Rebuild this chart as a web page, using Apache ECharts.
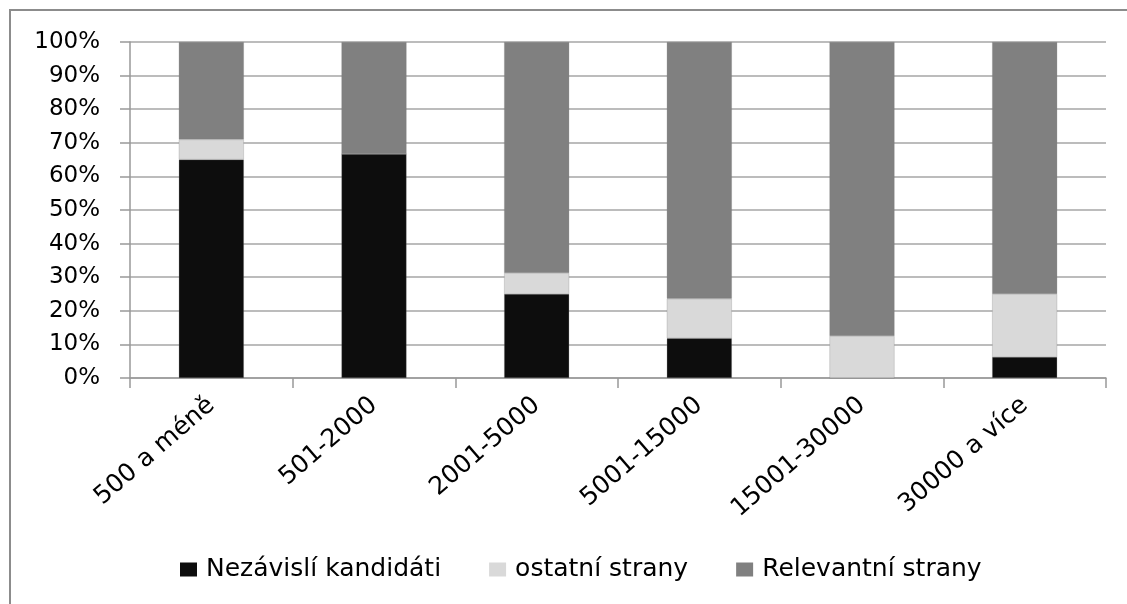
<!DOCTYPE html>
<html style="height: 100%">
<head>
<meta charset="utf-8">
<script src="https://cdn.jsdelivr.net/npm/echarts@6/dist/echarts.min.js"></script>
</head>
<body style="height: 100%; margin: 0; background: #fff">
<div id="container" style="width: 1127px; height: 604px"></div>
<script type="text/javascript">
var categories = ['500 a méně', '501-2000', '2001-5000', '5001-15000', '15001-30000', '30000 a více'];
var nezavisli = [65, 66.7, 25, 11.8, 0, 6.25];
var ostatni = [6, 0, 6.25, 11.8, 12.5, 18.75];
var relevantni = [29, 33.3, 68.75, 76.4, 87.5, 75];
var yTicks = [0, 10, 20, 30, 40, 50, 60, 70, 80, 90, 100];

var dom = document.getElementById('container');
var myChart = echarts.init(dom);

function bar(name, data, color) {
    return {
        name: name,
        type: 'bar',
        stack: 'total',
        barWidth: '40%',
        data: data,
        itemStyle: { color: color, borderColor: 'rgba(120,120,120,0.5)', borderWidth: 0.5 }
    };
}

var option = {
    animation: false,
    graphic: [{
        type: 'polyline',
        shape: { points: [[10, 604], [10, 10], [1127, 10]] },
        style: { fill: 'none', stroke: '#8c8c8c', lineWidth: 2 }
    }],
    legend: {
        top: 557,
        left: 180,
        padding: 0,
        itemWidth: 17,
        itemHeight: 14,
        itemGap: 48,
        icon: 'rect',
        itemStyle: { borderWidth: 0 },
        textStyle: { fontFamily: 'DejaVu Sans', fontSize: 25, color: '#000', padding: [0, 0, 0, 4] },
        data: ['Nezávislí kandidáti', 'ostatní strany', 'Relevantní strany']
    },
    grid: { left: 130, right: 21, top: 42, bottom: 226 },
    xAxis: {
        type: 'category',
        data: categories,
        axisLine: { lineStyle: { color: '#999', width: 1.5 } },
        axisTick: { show: true, length: 10, lineStyle: { color: '#999', width: 1.5 } },
        axisLabel: {
            rotate: 41,
            margin: 24,
            color: '#000',
            fontFamily: 'DejaVu Sans',
            fontSize: 25
        }
    },
    yAxis: {
        type: 'value',
        min: 0,
        max: 100,
        interval: 10,
        axisLine: { show: true, lineStyle: { color: '#999', width: 1.5 } },
        axisTick: { show: true, length: 10, lineStyle: { color: '#999', width: 1.5 } },
        splitLine: { lineStyle: { color: '#a6a6a6', width: 1.5 } },
        axisLabel: {
            margin: 30,
            color: '#000',
            fontFamily: 'DejaVu Sans',
            fontSize: 23,
            formatter: function (v) { return yTicks.indexOf(v) >= 0 ? v + '%' : ''; }
        }
    },
    series: [
        bar('Nezávislí kandidáti', nezavisli, '#0d0d0d'),
        bar('ostatní strany', ostatni, '#d9d9d9'),
        bar('Relevantní strany', relevantni, '#808080')
    ]
};
myChart.setOption(option, true);
</script>
</body>
</html>
